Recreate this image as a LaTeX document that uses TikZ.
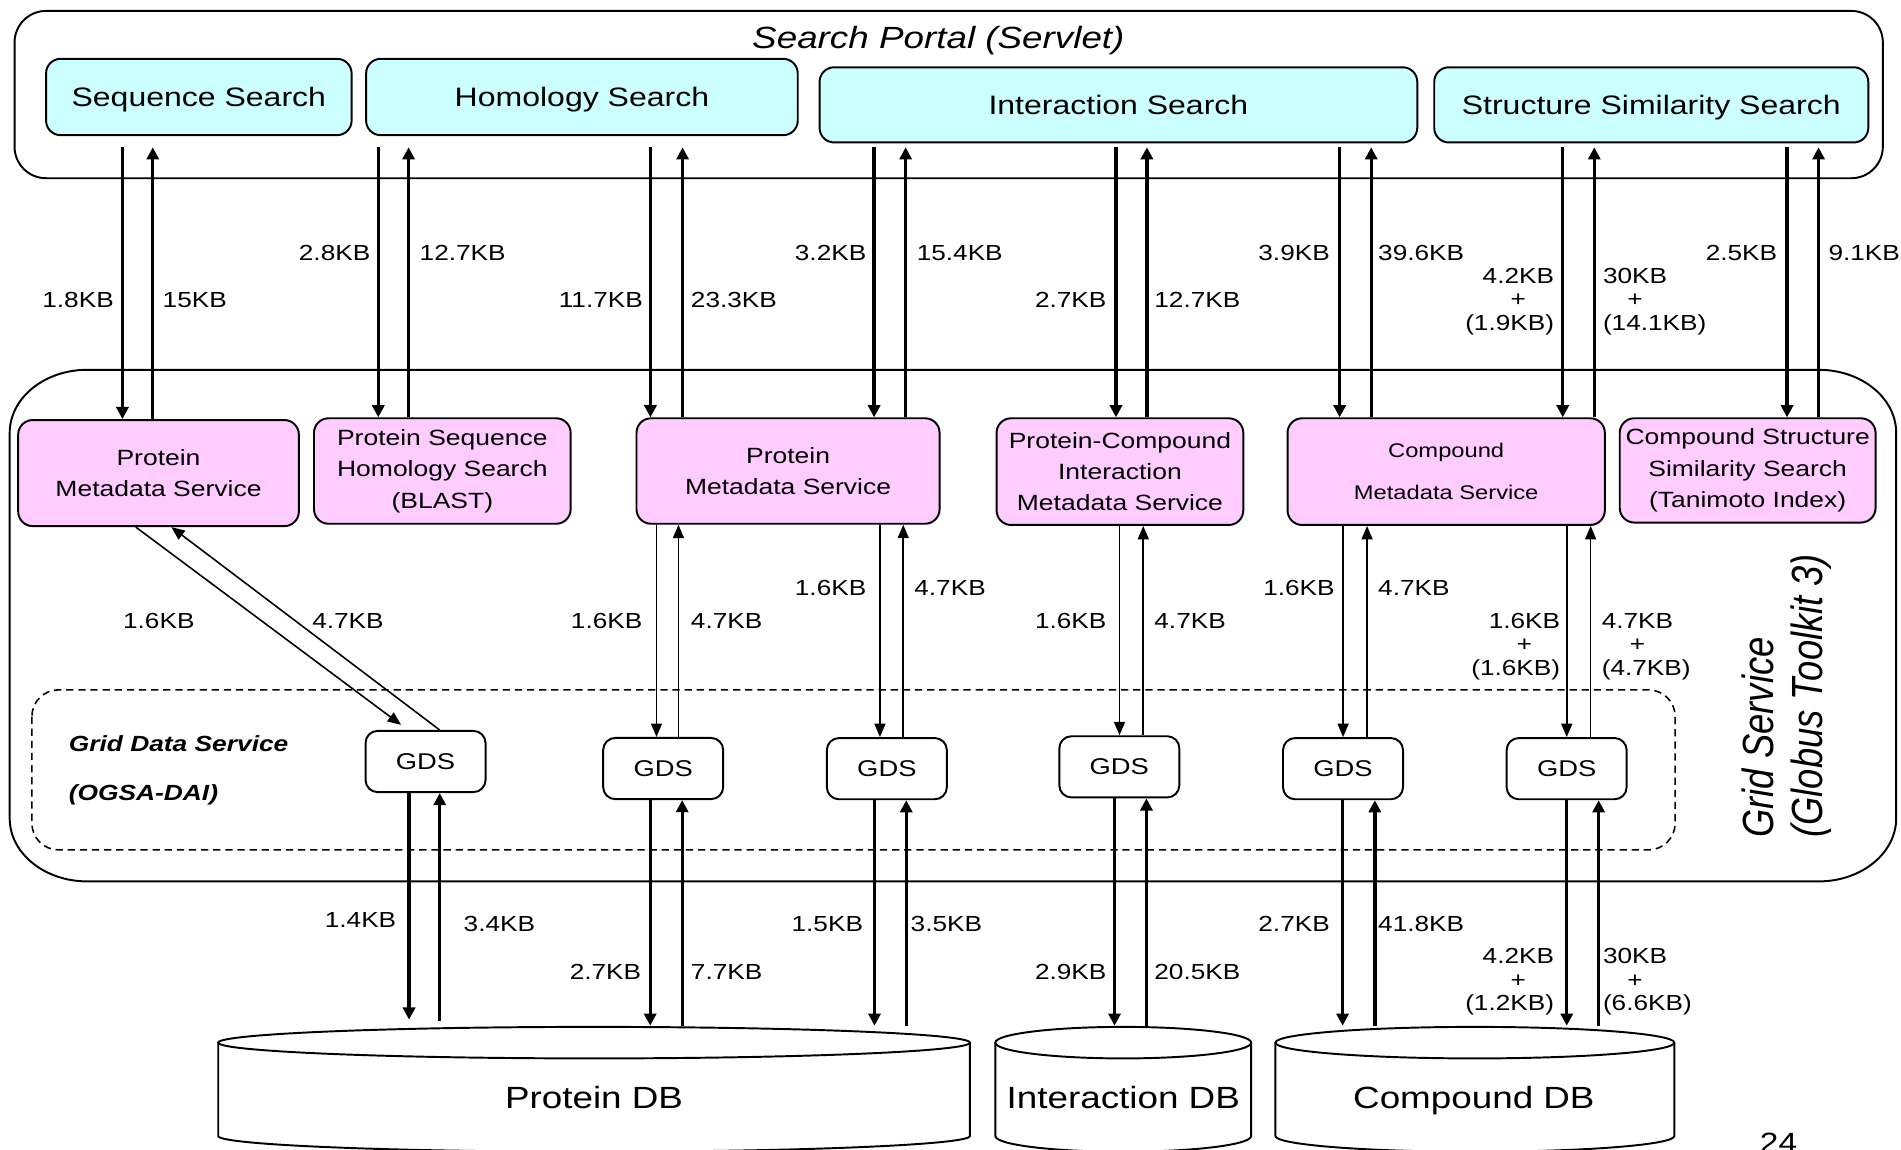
\documentclass[tikz,border=0pt]{standalone}
\usepackage{fontspec}
\setmainfont{Liberation Sans}[FakeStretch=1.2]
\newfontfamily\plainsans{Liberation Sans}
\usetikzlibrary{arrows.meta}

\definecolor{portalcyan}{HTML}{CCFFFF}
\definecolor{servicepink}{HTML}{FFCCFF}

% a pair of opposite flows: down at x=#2, up at x=#3, between #4 (upper) and #5 (lower)
\newcommand\flowpair[5]{%
  \draw[#1] (#2,0 |- #4) -- (#2,0 |- #5);
  \draw[#1] (#3,0 |- #5) -- (#3,0 |- #4);
}
% transfer size tag
\newcommand\kbtag[4]{\node[kb,anchor=#2] (#1) at (#3) {#4};}
% three-line tag: first size, a plus centred under it, then the extra size
\newlength\kbwidth
\newcommand\kbplus[1]{\settowidth\kbwidth{#1}\makebox[\kbwidth]{+}}
\newcommand\kbstack[4]{\begin{tabular}[t]{@{}#1@{}}#2\\\kbplus{#2}\\#4\end{tabular}}
% database drum: centre x, half width, top-rim y, bottom-rim y
\newcommand\dbdrum[4]{%
  \draw[line width=1.6pt, fill=white] (#1-#2,#3) -- (#1-#2,#4)
    arc[start angle=180, end angle=0, x radius=#2, y radius=13] -- (#1+#2,#3);
  \draw[line width=1.6pt, fill=white] (#1,#3) ellipse[x radius=#2, y radius=13];
}

\begin{document}
\begin{tikzpicture}[x=1pt, y=-1pt,
  cyanbox/.style={draw, line width=1.6pt, rounded corners=12pt, fill=portalcyan,
    inner sep=2pt, text height=16pt, text depth=0pt, font=\fontsize{22}{26}\selectfont},
  pinkbox/.style={draw, line width=1.6pt, rounded corners=12pt, fill=servicepink,
    inner sep=2pt, align=center, font=\fontsize{18.2}{25.8}\selectfont},
  gdsbox/.style={draw, line width=1.6pt, rounded corners=10pt, fill=white,
    minimum width=99pt, minimum height=50.5pt, inner sep=0pt,
    font=\fontsize{18.8}{22}\selectfont},
  kb/.style={inner sep=0pt, font=\fontsize{18}{19.5}\selectfont},
  bigflow/.style={line width=2.8pt, -{Triangle[length=10pt,width=10pt]}},
  smallflow/.style={line width=1.3pt, -{Triangle[length=11pt,width=9pt]}},
  dbname/.style={inner sep=0pt, font=\fontsize{25.3}{30}\selectfont},
]
\useasboundingbox (0,0) rectangle (1568,948);
\fill[white] (0,0) rectangle (1568,948);

% ---------- grid service container ----------
\draw[line width=1.6pt] (72,305) -- (1500,305)
  arc[start angle=-90, end angle=0, x radius=64, y radius=52] -- (1564,675)
  arc[start angle=0, end angle=90, x radius=64, y radius=52] -- (72,727)
  arc[start angle=90, end angle=180, x radius=64, y radius=52] -- (8,357)
  arc[start angle=180, end angle=270, x radius=64, y radius=52] -- cycle;

\node[rotate=90, anchor=base west, inner sep=0pt,
  font=\plainsans\itshape\fontsize{30}{36}\selectfont] (gslabel1) at (1463,691)
  {\scalebox{1}[1.2]{Grid Service}};
\node[rotate=90, anchor=base west, inner sep=0pt,
  font=\plainsans\itshape\fontsize{30}{36}\selectfont] (gslabel2) at (1503,691)
  {\scalebox{1}[1.2]{(Globus Toolkit 3)}};

% ---------- OGSA-DAI layer ----------
\draw[line width=1.3pt, dash pattern=on 6pt off 4pt, rounded corners=22pt]
  (26.3,569) rectangle (1381.7,701);
\node[anchor=base west, inner sep=0pt, font=\bfseries\itshape\fontsize{18.1}{22}\selectfont]
  (gdlabel1) at (56.6,619.5) {Grid Data Service};
\node[anchor=base west, inner sep=0pt, font=\bfseries\itshape\fontsize{18.1}{22}\selectfont]
  (gdlabel2) at (56.6,660) {(OGSA-DAI)};

% ---------- search portal ----------
\node[draw, line width=1.6pt, rounded corners=26pt, minimum width=1541pt,
  minimum height=138pt, inner sep=0pt] (portal) at (782.5,78) {};
\node[anchor=base, inner sep=0pt, font=\itshape\fontsize{25.3}{30}\selectfont]
  (portaltitle) at (774,40) {Search Portal (Servlet)};
\coordinate (srcrow) at (0,121.5);

\node[cyanbox, minimum width=252pt, minimum height=63pt] (seq) at (164,80) {Sequence Search};
\node[cyanbox, minimum width=356pt, minimum height=63pt] (hom) at (480,80) {Homology Search};
\node[cyanbox, minimum width=493pt, minimum height=62pt] (int) at (922.5,86.5) {Interaction Search};
\node[cyanbox, minimum width=358pt, minimum height=62pt] (str) at (1362,86.5) {Structure Similarity Search};

% ---------- grid services ----------
\node[pinkbox, minimum width=231.5pt, minimum height=87.5pt] (pms1) at (130.75,390.2)
  {Protein\\Metadata Service};
\node[pinkbox, minimum width=211.7pt, minimum height=87pt] (blast) at (364.85,388.5)
  {Protein Sequence\\Homology Search\\(BLAST)};
\node[pinkbox, minimum width=250pt, minimum height=87pt] (pms2) at (650,388.5)
  {Protein\\Metadata Service};
\node[pinkbox, minimum width=203.5pt, minimum height=88pt] (pci) at (923.75,389)
  {Protein-Compound\\Interaction\\Metadata Service};
\node[pinkbox, minimum width=261.7pt, minimum height=88pt,
  font=\fontsize{16.3}{19.6}\selectfont] (cms) at (1192.85,389)
  {Compound\\[15pt]Metadata Service};
\node[pinkbox, minimum width=211pt, minimum height=86pt] (csss) at (1441.5,388)
  {Compound Structure\\Similarity Search\\(Tanimoto Index)};

% ---------- grid data services ----------
\node[gdsbox] (gds1) at (351,628.1) {GDS};
\node[gdsbox] (gds2) at (547,633.9) {GDS};
\node[gdsbox] (gds3) at (731.5,634) {GDS};
\node[gdsbox] (gds4) at (923.25,632.5) {GDS};
\node[gdsbox] (gds5) at (1107.75,634) {GDS};
\node[gdsbox] (gds6) at (1292.2,634) {GDS};

% ---------- databases ----------
\dbdrum{490}{310}{860}{937}
\dbdrum{926.5}{105.5}{860}{937}
\dbdrum{1216.5}{164.5}{860}{937}
\coordinate (pdbtop) at (490,846);
\coordinate (idbtop) at (926.5,846);
\coordinate (cdbtop) at (1216.5,846);
\node[dbname, anchor=base] (pdb) at (490,914) {Protein DB};
\node[dbname, anchor=base] (idb) at (926.5,914) {Interaction DB};
\node[dbname, anchor=base] (cdb) at (1215.7,914) {Compound DB};

\node[anchor=base, inner sep=0pt, font=\fontsize{23}{27}\selectfont] (pagenum) at (1467,950.5) {24};

% ---------- portal <-> services ----------
\flowpair{bigflow}{101}{126}{srcrow}{pms1.north}
\flowpair{bigflow}{312}{337}{srcrow}{blast.north}
\flowpair{bigflow}{536.5}{563}{srcrow}{pms2.north}
\flowpair{bigflow}{721}{747}{srcrow}{pms2.north}
\flowpair{bigflow}{920.5}{946}{srcrow}{pci.north}
\flowpair{bigflow}{1105}{1131}{srcrow}{cms.north}
\flowpair{bigflow}{1289}{1315}{srcrow}{cms.north}
\flowpair{bigflow}{1474}{1500}{srcrow}{csss.north}

\kbtag{ta1}{base east}{94,253.5}{1.8KB}
\kbtag{tb1}{base west}{134,253.5}{15KB}
\kbtag{ta2}{base east}{305.6,214.5}{2.8KB}
\kbtag{tb2}{base west}{346,214.5}{12.7KB}
\kbtag{ta3}{base east}{530.4,253.5}{11.7KB}
\kbtag{tb3}{base west}{569.7,253.5}{23.3KB}
\kbtag{ta4}{base east}{714.7,214.5}{3.2KB}
\kbtag{tb4}{base west}{756,214.5}{15.4KB}
\kbtag{ta5}{base east}{912.8,253.5}{2.7KB}
\kbtag{tb5}{base west}{952,253.5}{12.7KB}
\kbtag{ta6}{base east}{1097,214.5}{3.9KB}
\kbtag{tb6}{base west}{1136.6,214.5}{39.6KB}
\kbtag{ta7}{base east}{1282,233.7}{\kbstack{r}{4.2KB}{+}{(1.9KB)}}
\kbtag{tb7}{base west}{1322,233.7}{\kbstack{l}{30KB}{+}{(14.1KB)}}
\kbtag{ta8}{base east}{1466,214.5}{2.5KB}
\kbtag{tb8}{base west}{1508,214.5}{9.1KB}

% ---------- services <-> GDS ----------
\draw[smallflow] ([xshift=-18.75pt]pms1.south) -- ([xshift=-20.2pt,yshift=4.2pt]gds1.north);
\draw[smallflow] ([xshift=11.6pt]gds1.north) -- ([xshift=10.6pt]pms1.south);
\flowpair{smallflow}{541.5}{559.6}{pms2.south}{gds2.north}
\flowpair{smallflow}{725.8}{745}{pms2.south}{gds3.north}
\flowpair{smallflow}{923.4}{943}{pci.south}{gds4.north}
\flowpair{smallflow}{1107.8}{1127.6}{cms.south}{gds5.north}
\flowpair{smallflow}{1292.3}{1312}{cms.south}{gds6.north}

\kbtag{ma1}{base}{131,518}{1.6KB}
\kbtag{mb1}{base}{287,518}{4.7KB}
\kbtag{ma2}{base east}{530,518}{1.6KB}
\kbtag{mb2}{base west}{569.7,518}{4.7KB}
\kbtag{ma3}{base east}{714.7,491}{1.6KB}
\kbtag{mb3}{base west}{754,491}{4.7KB}
\kbtag{ma4}{base east}{912.8,518}{1.6KB}
\kbtag{mb4}{base west}{952,518}{4.7KB}
\kbtag{ma5}{base east}{1101,491}{1.6KB}
\kbtag{mb5}{base west}{1136.6,491}{4.7KB}
\kbtag{ma6}{base east}{1287,518}{\kbstack{r}{1.6KB}{+}{(1.6KB)}}
\kbtag{mb6}{base west}{1321,518}{\kbstack{l}{4.7KB}{+}{(4.7KB)}}

% ---------- GDS <-> databases ----------
\draw[bigflow, shorten >=5pt] (337.4,0 |- gds1.south) -- (337.4,0 |- pdbtop);
\draw[bigflow, shorten <=4pt] (362.7,0 |- pdbtop) -- (362.7,0 |- gds1.south);
\flowpair{bigflow}{536.3}{562.7}{gds2.south}{pdbtop}
\flowpair{bigflow}{721.3}{747.5}{gds3.south}{pdbtop}
\flowpair{bigflow}{919.3}{945.6}{gds4.south}{idbtop}
\flowpair{bigflow}{1107.4}{1134}{gds5.south}{cdbtop}
\flowpair{bigflow}{1292.3}{1318.6}{gds6.south}{cdbtop}

\kbtag{da1}{base east}{327,765}{1.4KB}
\kbtag{db1}{base west}{382.3,768}{3.4KB}
\kbtag{da2}{base east}{529,808.3}{2.7KB}
\kbtag{db2}{base west}{569.7,808.3}{7.7KB}
\kbtag{da3}{base east}{712,768}{1.5KB}
\kbtag{db3}{base west}{751,768}{3.5KB}
\kbtag{da4}{base east}{912.8,808.3}{2.9KB}
\kbtag{db4}{base west}{952,808.3}{20.5KB}
\kbtag{da5}{base east}{1097,768}{2.7KB}
\kbtag{db5}{base west}{1136.6,768}{41.8KB}
\kbtag{da6}{base east}{1282,794.6}{\kbstack{r}{4.2KB}{+}{(1.2KB)}}
\kbtag{db6}{base west}{1322,794.6}{\kbstack{l}{30KB}{+}{(6.6KB)}}
\end{tikzpicture}
\end{document}
